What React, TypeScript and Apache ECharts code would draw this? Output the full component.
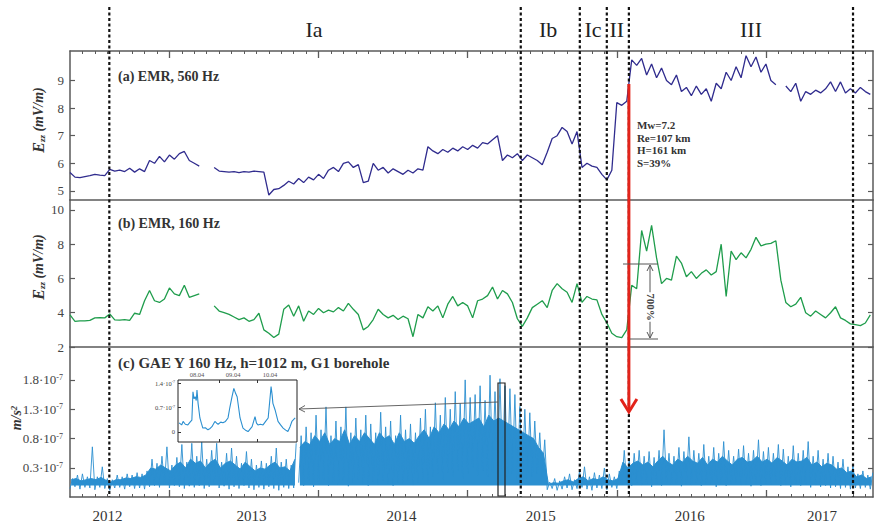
import React, { useEffect, useRef } from 'react';
import * as echarts from 'echarts';

// ---- time grid (decimal years) ----
const X_MIN = 2011 + 4 / 12;
const X_MAX = 2016.718;
const T0 = 2011 + 4 / 12;
const DT = 1 / 30;

// ---- panel (a) EMR 560 Hz, mV/m ----
const EMR560: (number | null)[] = [
  5.67, 5.5, 5.48, 5.52, 5.55, 5.6, 5.57, 5.55, 5.78, 5.72,
  5.75, 5.7, 5.82, 5.68, 5.8, 5.7, 6.1, 6.0, 6.25, 6.05,
  6.3, 6.15, 6.35, 6.43, 6.1, 6.0, 5.9, null, null, 5.85,
  5.72, 5.7, 5.68, 5.7, 5.66, 5.7, 5.68, 5.72, 5.7, 5.68,
  4.85, 5.05, 5.08, 5.2, 5.35, 5.25, 5.45, 5.3, 5.5, 5.4,
  5.6, 5.45, 5.75, 5.85, 5.7, 6.0, 6.05, 5.85, 5.95, 5.3,
  5.35, 6.0, 5.75, 5.85, 5.65, 5.8, 5.7, 5.6, 5.75, 5.65,
  5.8, 5.75, 6.6, 6.45, 6.35, 6.5, 6.4, 6.55, 6.45, 6.6,
  6.5, 6.65, 6.55, 6.75, 6.7, 6.85, 7.0, 6.1, 6.3, 6.2,
  6.35, 6.1, 6.3, 6.2, 6.1, 5.95, 6.4, 6.9, 7.0, 7.3,
  7.15, 6.7, 7.15, 5.85, 6.0, 5.9, 5.85, 5.6, 5.4, 5.75,
  8.2, 8.1, 8.25, 9.75, 9.55, 9.8, 9.2, 9.6, 9.1, 9.45,
  9.0, 8.85, 9.2, 8.6, 8.75, 8.45, 8.8, 8.5, 8.7, 8.25,
  8.9, 8.7, 9.3, 9.0, 9.5, 9.1, 9.9, 9.5, 9.85, 9.3,
  9.6, 9.0, 8.85, null, 8.8, 8.6, 8.9, 8.25, 8.6, 8.5,
  8.65, 8.55, 8.7, 8.95, 8.6, 8.95, 8.55, 8.7, 8.55, 8.75,
  8.6, 8.5,
];

// ---- panel (b) EMR 160 Hz, mV/m ----
const EMR160: (number | null)[] = [
  3.87, 3.5, 3.53, 3.53, 3.55, 3.7, 3.72, 3.7, 3.93, 3.58,
  3.57, 3.6, 3.56, 3.97, 3.9, 4.7, 5.3, 4.7, 4.6, 4.8,
  5.45, 5.1, 5.0, 5.6, 4.9, 5.0, 5.1, null, null, 4.4,
  4.1, 4.0, 3.9, 3.75, 3.6, 3.7, 3.5, 3.6, 3.97, 3.0,
  2.8, 2.55, 2.75, 4.2, 4.45, 3.8, 4.4, 3.5, 4.1, 3.9,
  4.25, 4.0, 4.15, 4.05, 4.3, 4.1, 4.55, 4.2, 3.9, 3.0,
  3.2, 3.6, 4.2, 3.9, 3.7, 3.85, 3.6, 3.8, 3.65, 2.6,
  3.9, 3.7, 4.35, 4.1, 4.4, 3.7, 4.5, 4.95, 4.4, 4.6,
  4.4, 3.7, 4.7, 4.8, 5.0, 5.5, 4.8, 5.3, 5.1, 4.6,
  3.65, 3.2, 3.7, 4.3, 4.5, 4.7, 4.3, 5.3, 5.7, 5.4,
  5.2, 4.6, 5.7, 4.6, 4.95, 4.8, 4.75, 3.9, 3.4, 2.8,
  2.6, 2.55, 3.0, 5.6, 5.4, 8.8, 7.6, 9.1, 7.2, 5.7,
  6.0, 5.9, 7.3, 6.9, 6.1, 6.4, 6.0, 6.3, 6.5, 6.2,
  6.4, 8.0, 4.95, 7.6, 7.1, 7.5, 7.2, 7.7, 8.4, 7.9,
  8.0, 8.05, 8.2, 5.9, 4.6, 4.35, 4.5, 4.9, 4.0, 3.8,
  4.1, 3.9, 3.7, 4.0, 4.35, 3.7, 3.55, 3.35, 3.3, 3.25,
  3.4, 3.87,
];

// ---- panel (c) GAE, units of 1e-7 m/s^2: spike tops, dense-body top, bottom edge ----
const GAE_HI: number[] = [
  0.12, 0.18, 0.2, 0.15, 0.66, 0.15, 0.32, 0.12, 0.1, 0.18,
  0.15, 0.2, 0.18, 0.22, 0.2, 0.25, 0.45, 0.38, 0.5, 0.66,
  0.35, 0.48, 0.7, 0.4, 0.72, 0.5, 0.74, 0.45, 0.6, 0.72,
  0.4, 0.55, 0.64, 0.5, 0.38, 0.58, 0.45, 0.35, 0.42, 0.38,
  0.5, 0.64, 0.4, 0.45, 0.35, 0.72, 0.85, 1.0, 0.9, 1.2,
  0.95, 1.34, 0.85, 1.1, 1.0, 1.34, 0.9, 1.15, 0.95, 1.2,
  1.05, 0.9, 1.25, 1.0, 1.1, 0.85, 1.2, 0.95, 1.05, 0.9,
  1.15, 1.3, 1.0, 1.41, 1.2, 1.5, 1.3, 1.6, 1.4, 1.8,
  1.5, 1.55, 1.7, 1.45, 1.88, 1.6, 1.82, 1.7, 1.65, 1.55,
  1.35, 1.3, 1.24, 1.1, 0.9, 0.78, 0.06, 0.12, 0.08, 0.15,
  0.2, 0.1, 0.25, 0.32, 0.15, 0.22, 0.18, 0.3, 0.2, 0.15,
  0.25, 0.6, 0.45, 0.55, 0.6, 0.5, 0.58, 0.48, 0.6, 0.95,
  0.55, 0.5, 0.65, 0.58, 0.83, 0.6, 0.55, 0.7, 0.5, 0.65,
  0.55, 0.75, 0.6, 0.5, 0.62, 0.68, 0.55, 0.6, 0.78, 0.58,
  0.65, 0.55, 0.7, 0.62, 0.5, 0.68, 0.55, 0.6, 0.75, 0.5,
  0.6, 0.45, 0.55, 0.5, 0.4, 0.45, 0.32, 0.35, 0.2, 0.25,
  0.18, 0.22,
];
const GAE_CORE: number[] = [
  0.1, 0.12, 0.08, 0.1, 0.12, 0.1, 0.14, 0.09, 0.06, 0.1,
  0.1, 0.13, 0.12, 0.15, 0.14, 0.18, 0.3, 0.28, 0.35, 0.3,
  0.25, 0.35, 0.4, 0.3, 0.45, 0.38, 0.42, 0.3, 0.4, 0.45,
  0.3, 0.38, 0.42, 0.35, 0.28, 0.4, 0.32, 0.25, 0.3, 0.28,
  0.35, 0.4, 0.3, 0.32, 0.25, 0.45, 0.65, 0.75, 0.7, 0.85,
  0.75, 0.9, 0.7, 0.8, 0.75, 0.95, 0.7, 0.85, 0.75, 0.9,
  0.8, 0.7, 0.9, 0.8, 0.85, 0.7, 0.9, 0.75, 0.8, 0.72,
  0.85, 0.95, 0.8, 1.0, 0.9, 1.05, 0.95, 1.1, 1.0, 1.15,
  1.05, 1.1, 1.15, 1.0, 1.2, 1.1, 1.15, 1.1, 1.05, 1.0,
  0.95, 0.9, 0.85, 0.8, 0.65, 0.55, 0.02, 0.05, 0.04, 0.08,
  0.1, 0.06, 0.12, 0.15, 0.08, 0.12, 0.1, 0.15, 0.1, 0.08,
  0.12, 0.4, 0.3, 0.38, 0.42, 0.35, 0.4, 0.32, 0.42, 0.5,
  0.4, 0.35, 0.45, 0.4, 0.5, 0.42, 0.38, 0.48, 0.35, 0.45,
  0.4, 0.5, 0.42, 0.35, 0.45, 0.48, 0.4, 0.42, 0.5, 0.4,
  0.45, 0.38, 0.48, 0.42, 0.35, 0.45, 0.4, 0.42, 0.48, 0.35,
  0.4, 0.32, 0.38, 0.35, 0.28, 0.3, 0.22, 0.25, 0.15, 0.18,
  0.12, 0.15,
];
const GAE_LO: number[] = [
  -0.05, -0.02, -0.06, -0.03, -0.04, -0.07, -0.03, -0.05, -0.08, -0.04,
  -0.03, -0.06, -0.02, -0.05, -0.04, -0.06, -0.02, 0.0, -0.03, 0.02,
  -0.04, 0.0, -0.02, -0.05, -0.01, -0.03, 0.0, -0.05, -0.02, 0.02,
  -0.04, -0.01, -0.06, -0.02, -0.05, 0.0, -0.04, -0.07, -0.03, -0.06,
  -0.02, -0.05, -0.08, -0.03, -0.05, -0.04, 0.05, 0.0, 0.08, -0.02,
  0.04, 0.1, 0.0, 0.06, 0.02, 0.08, -0.01, 0.05, 0.1, 0.03,
  0.0, 0.07, 0.02, 0.09, 0.04, 0.0, 0.06, 0.03, 0.08, 0.01,
  0.05, 0.1, 0.05, 0.15, 0.2, 0.1, 0.22, 0.15, 0.25, 0.12,
  0.2, 0.3, 0.18, 0.25, 0.15, 0.22, 0.2, 0.28, 0.15, 0.2,
  0.1, 0.18, 0.12, 0.15, 0.2, 0.15, -0.07, -0.05, -0.08, -0.06,
  -0.04, -0.07, -0.05, -0.03, -0.06, -0.08, -0.04, -0.05, -0.07, -0.03,
  -0.05, 0.02, 0.04, 0.0, 0.05, 0.01, 0.03, -0.02, 0.04, 0.0,
  0.05, 0.02, 0.03, -0.01, 0.04, 0.01, 0.05, 0.0, 0.03, 0.02,
  -0.02, 0.04, 0.0, 0.03, 0.05, 0.01, 0.02, -0.01, 0.04, 0.0,
  0.03, 0.02, 0.05, 0.0, 0.01, -0.02, 0.03, 0.0, 0.02, -0.03,
  0.01, -0.02, 0.0, -0.04, -0.02, -0.05, -0.03, -0.06, -0.04, -0.05,
  -0.03, -0.06,
];
const GAE_GAP_AFTER = 45;

// ---- inset (days, units of 1e-7 m/s^2) ----
const INSET_T = [
  0.03, 0.1, 0.14, 0.2, 0.27, 0.33, 0.38, 0.41, 0.44, 0.47,
  0.5, 0.52, 0.55, 0.6, 0.64, 0.68, 0.75, 0.82, 0.88, 0.93,
  1.01, 1.06, 1.1, 1.17, 1.23, 1.3, 1.37, 1.42, 1.48, 1.53,
  1.58, 1.62, 1.7, 1.78, 1.85, 1.92, 2.03, 2.11, 2.15, 2.19,
  2.26, 2.33, 2.4, 2.47, 2.55, 2.58, 2.6, 2.66, 2.74, 2.81,
  2.88, 2.95, 3.01, 3.07, 3.12, 3.21,
];
const INSET_V = [
  0.26, 0.2, 0.3, 0.22, 0.2, 0.28, 0.34, 1.15, 0.95, 1.01,
  0.9, 1.2, 0.82, 0.4, 0.25, 0.11, 0.12, 0.06, 0.1, 0.15,
  0.3, 0.25, 0.22, 0.28, 0.26, 0.3, 0.4, 0.7, 1.01, 1.25,
  1.1, 1.01, 0.4, 0.11, 0.05, 0.01, 0.15, 0.44, 0.25, 0.2,
  0.22, 0.2, 0.3, 0.4, 1.3, 1.05, 0.82, 0.63, 0.3, 0.2,
  0.11, 0.05, 0.01, 0.15, 0.3, 0.4,
];
const INSET_DAYS = ['08.04', '09.04', '10.04'];
const INSET_DAY_AT = [0.52, 1.51, 2.52];
const INSET_TICKS = [1.12, 2.16];
const INSET_Y = [0, 0.7, 1.4];

// ---- axes ----
const YEAR_LABELS = ['2012', '2013', '2014', '2015', '2016', '2017'];
const YEAR_LABEL_AT = [2011.584, 2012.55, 2013.557, 2014.49, 2015.49, 2016.376];
const YEAR_TICKS = [2012, 2013, 2014, 2015, 2016];
const A_TICKS = [5, 6, 7, 8, 9];
const B_TICKS = [2, 4, 6, 8, 10];
const C_TICKS = [0.3, 0.8, 1.3, 1.8];

// ---- annotations ----
const BOUNDARIES = [2011.597, 2014.356, 2014.752, 2014.933, 2015.081, 2016.584];
const REGIONS = ['Ia', 'Ib', 'Ic', 'II', 'III'];
const REGION_AT = [2012.97, 2014.54, 2014.84, 2015.0, 2015.9];
const QUAKE = 2015.081;
const QUAKE_TEXT = ['Mw=7.2', 'Re=107 km', 'H=161 km', 'S=39%'];
const PANEL_TITLES = ['(a) EMR, 560 Hz', '(b) EMR, 160 Hz', '(c) GAE Y 160 Hz, h=1012 m, G1 borehole'];

const FONT = "'Liberation Serif', 'Times New Roman', serif";
const AX = '#5a5a5a';
const C_A = '#302c8e';
const C_B = '#1f9d4c';
const C_C = '#2b8fd0';

function nearestIdx(arr: number[], v: number) {
  let b = 0;
  for (let k = 1; k < arr.length; k++) if (Math.abs(arr[k] - v) < Math.abs(arr[b] - v)) b = k;
  return b;
}

export default function App() {
  const ref = useRef<HTMLDivElement>(null);
  useEffect(() => {
    const el = ref.current!;
    const chart = echarts.init(el, undefined, { renderer: 'svg' });

    const months: number[] = [];
    for (let k = 1; X_MIN + k / 12 < X_MAX; k++) months.push(X_MIN + k / 12);

    const lineSty = { color: AX, width: 1.5 };
    const baseX = (grid: number, pos: string, extra: any = {}) => ({
      type: 'value', gridIndex: grid, position: pos, min: X_MIN, max: X_MAX,
      axisLine: { show: true, onZero: false, lineStyle: lineSty },
      axisTick: { show: false }, axisLabel: { show: false }, splitLine: { show: false },
      ...extra,
    });
    const baseY = (grid: number, pos: string, min: number, max: number, ticks: number[], label: any) => ({
      type: 'value', gridIndex: grid, position: pos, min, max,
      axisLine: { show: true, onZero: false, lineStyle: lineSty },
      axisTick: { show: true, inside: true, length: 5, customValues: ticks, lineStyle: { color: AX, width: 1.2 } },
      axisLabel: label ? { show: true, customValues: ticks, color: '#444', fontFamily: FONT, fontSize: 13, margin: 6, ...label } : { show: false },
      splitLine: { show: false },
    });

    const supRich = (size: number) => ({
      m: { fontSize: size, fontFamily: FONT, color: '#444' },
      e: { fontSize: Math.round(size * 0.62), fontFamily: FONT, color: '#444', verticalAlign: 'top' },
    });

    const dA = EMR560.map((v, i) => [T0 + i * DT, v == null ? '-' : v]);
    const dB = EMR160.map((v, i) => [T0 + i * DT, v == null ? '-' : v]);
    const n = Math.min(GAE_HI.length, GAE_LO.length, GAE_CORE.length);
    const dSpike: any[] = [];
    const dCore: any[] = [];
    for (let i = 0; i < n; i++) {
      if (i === GAE_GAP_AFTER + 1) {
        dSpike.push([T0 + (i - 0.3) * DT, '-']);
        dCore.push([T0 + (i - 0.3) * DT, '-']);
      }
      dSpike.push([T0 + i * DT, GAE_LO[i]]);
      dSpike.push([T0 + (i + 0.5) * DT, GAE_HI[i]]);
      dCore.push([T0 + (i + 0.25) * DT, GAE_CORE[i]]);
    }
    const dI = INSET_T.map((t, i) => [t, INSET_V[i]]);

    const option: any = {
      animation: false,
      backgroundColor: '#fff',
      grid: [
        { left: 70, right: 1, top: 51, height: 149 },
        { left: 70, right: 1, top: 200, height: 147 },
        { left: 70, right: 1, top: 347, height: 150 },
        { left: 178, top: 380, width: 119, height: 62, show: true, backgroundColor: '#fff', borderColor: '#222', borderWidth: 1, z: 5 },
      ],
      xAxis: [
        baseX(0, 'bottom'),
        baseX(0, 'top', { axisTick: { show: true, inside: true, length: 7, customValues: YEAR_TICKS, lineStyle: { color: AX, width: 1.3 } } }),
        baseX(0, 'top', { axisLine: { show: false, onZero: false }, axisTick: { show: true, inside: true, length: 3, customValues: months, lineStyle: { color: AX, width: 1 } } }),
        baseX(1, 'bottom'),
        baseX(2, 'bottom', {
          axisTick: { show: true, inside: true, length: 7, customValues: YEAR_TICKS, lineStyle: { color: AX, width: 1.3 } },
          axisLabel: {
            show: true, customValues: YEAR_LABEL_AT, margin: 11, fontFamily: FONT, fontSize: 15, color: '#333',
            formatter: (v: number) => YEAR_LABELS[nearestIdx(YEAR_LABEL_AT, v)],
          },
        }),
        baseX(2, 'bottom', { axisLine: { show: false, onZero: false }, axisTick: { show: true, inside: true, length: 3, customValues: months, lineStyle: { color: AX, width: 1 } } }),
        {
          type: 'value', gridIndex: 3, position: 'top', min: 0, max: 3.26, z: 6,
          axisLine: { show: false, onZero: false },
          axisTick: { show: true, inside: true, length: 3, customValues: INSET_TICKS, lineStyle: { color: '#333' } },
          axisLabel: {
            show: true, customValues: INSET_DAY_AT, margin: 2, fontFamily: FONT, fontSize: 6.5, color: '#555',
            formatter: (v: number) => INSET_DAYS[nearestIdx(INSET_DAY_AT, v)],
          },
          splitLine: { show: false },
        },
        {
          type: 'value', gridIndex: 3, position: 'bottom', min: 0, max: 3.26, z: 6,
          axisLine: { show: false, onZero: false },
          axisTick: { show: true, inside: true, length: 3, customValues: INSET_TICKS, lineStyle: { color: '#333' } },
          axisLabel: { show: false }, splitLine: { show: false },
        },
      ],
      yAxis: [
        baseY(0, 'left', 4.67, 10.07, A_TICKS, {}),
        baseY(0, 'right', 4.67, 10.07, A_TICKS, null),
        baseY(1, 'left', 2, 10.58, B_TICKS, {}),
        baseY(1, 'right', 2, 10.58, B_TICKS, null),
        baseY(2, 'left', -0.194, 2.36, C_TICKS, {
          margin: 7,
          formatter: (v: number) => `{m|${v.toFixed(1)}·10}{e|-7}`,
          rich: supRich(13),
        }),
        baseY(2, 'right', -0.194, 2.36, C_TICKS, null),
        {
          type: 'value', gridIndex: 3, position: 'left', min: -0.29, max: 1.49, z: 6,
          axisLine: { show: false, onZero: false },
          axisTick: { show: true, inside: true, length: 3, customValues: INSET_Y, lineStyle: { color: '#333' } },
          axisLabel: {
            show: true, customValues: INSET_Y, margin: 3,
            formatter: (v: number) => (v === 0 ? '{m|0}' : `{m|${v.toFixed(1)}·10}{e|-7}`),
            rich: supRich(6.5),
          },
          splitLine: { show: false },
        },
      ],
      series: [
        { type: 'line', xAxisIndex: 0, yAxisIndex: 0, data: dA, showSymbol: false, lineStyle: { color: C_A, width: 1.3 }, silent: true },
        { type: 'line', xAxisIndex: 3, yAxisIndex: 2, data: dB, showSymbol: false, lineStyle: { color: C_B, width: 1.3 }, silent: true },
        {
          type: 'line', xAxisIndex: 4, yAxisIndex: 4, data: dCore, showSymbol: false,
          lineStyle: { color: C_C, width: 1 }, areaStyle: { color: C_C, opacity: 1, origin: 'auto' }, silent: true,
        },
        {
          type: 'line', xAxisIndex: 4, yAxisIndex: 4, data: dSpike, showSymbol: false,
          lineStyle: { color: C_C, width: 0.9 }, silent: true,
        },
        { type: 'line', xAxisIndex: 6, yAxisIndex: 6, data: dI, showSymbol: false, z: 7, lineStyle: { color: C_C, width: 1.1 }, silent: true },
      ],
    };
    chart.setOption(option);

    const xp = (t: number) => chart.convertToPixel({ xAxisIndex: 0 }, t) as number;
    const els: any[] = [];
    BOUNDARIES.forEach((b) => {
      const x = xp(b);
      els.push({ type: 'line', z: 50, silent: true, shape: { x1: x, y1: 7, x2: x, y2: 497 }, style: { stroke: '#111', lineWidth: 2.2, lineDash: [3, 2.5] } });
    });
    REGIONS.forEach((r, k) => {
      els.push({ type: 'text', z: 50, x: xp(REGION_AT[k]), y: 29, style: { text: r, font: `22px ${FONT}`, fill: '#222', align: 'center', verticalAlign: 'middle' } });
    });
    const titleY = [76, 223, 363];
    PANEL_TITLES.forEach((t, k) => {
      els.push({ type: 'text', z: 50, x: 118, y: titleY[k], style: { text: t, font: `bold ${k === 2 ? 15 : 14}px ${FONT}`, fill: '#333', align: 'left', verticalAlign: 'middle' } });
    });
    const eName = (y: number) => ({
      type: 'text', z: 50, x: 38, y, rotation: Math.PI / 2,
      style: {
        text: '{e|E}{s|zz}{n| (mV/m)}', align: 'center', verticalAlign: 'middle', fill: '#333',
        rich: {
          e: { fontFamily: FONT, fontStyle: 'italic', fontWeight: 'bold', fontSize: 16, fill: '#333' },
          s: { fontFamily: FONT, fontStyle: 'italic', fontWeight: 'bold', fontSize: 9, fill: '#333', verticalAlign: 'bottom' },
          n: { fontFamily: FONT, fontStyle: 'italic', fontWeight: 'bold', fontSize: 14, fill: '#333' },
        },
      },
    });
    els.push(eName(120));
    els.push(eName(267));
    els.push({
      type: 'text', z: 50, x: 16, y: 418, rotation: Math.PI / 2,
      style: {
        text: '{n|m/s}{e|2}', align: 'center', verticalAlign: 'middle', fill: '#333',
        rich: {
          n: { fontFamily: FONT, fontStyle: 'italic', fontWeight: 'bold', fontSize: 14, fill: '#333' },
          e: { fontFamily: FONT, fontStyle: 'italic', fontWeight: 'bold', fontSize: 9, fill: '#333', verticalAlign: 'top' },
        },
      },
    });
    const q = xp(QUAKE);
    els.push({ type: 'line', z: 60, silent: true, shape: { x1: q, y1: 84, x2: q, y2: 411 }, style: { stroke: '#e2231a', lineWidth: 3 } });
    els.push({ type: 'polyline', z: 60, silent: true, shape: { points: [[q - 8, 399], [q, 412], [q + 8, 399]] }, style: { stroke: '#e2231a', lineWidth: 3, fill: 'none' } });
    QUAKE_TEXT.forEach((t, k) => {
      els.push({ type: 'text', z: 60, x: q + 8, y: 125 + k * 12.7, style: { text: t, font: `bold 11px ${FONT}`, fill: '#333', align: 'left', verticalAlign: 'middle' } });
    });
    // 700% indicator
    els.push({ type: 'line', z: 60, shape: { x1: 623, y1: 264, x2: 658, y2: 264 }, style: { stroke: '#555', lineWidth: 1 } });
    els.push({ type: 'line', z: 60, shape: { x1: 630, y1: 339, x2: 658, y2: 339 }, style: { stroke: '#555', lineWidth: 1 } });
    els.push({ type: 'line', z: 60, shape: { x1: 650, y1: 265, x2: 650, y2: 338 }, style: { stroke: '#555', lineWidth: 1 } });
    els.push({ type: 'polyline', z: 60, shape: { points: [[647, 271], [650, 265], [653, 271]] }, style: { stroke: '#555', lineWidth: 1, fill: 'none' } });
    els.push({ type: 'polyline', z: 60, shape: { points: [[647, 332], [650, 338], [653, 332]] }, style: { stroke: '#555', lineWidth: 1, fill: 'none' } });
    els.push({ type: 'text', z: 61, x: 651, y: 307, rotation: -Math.PI / 2, style: { text: '700%', font: `bold 11px ${FONT}`, fill: '#444', align: 'center', verticalAlign: 'middle', backgroundColor: '#fff', padding: [0, 1] } });
    // inset pointer
    els.push({ type: 'rect', z: 55, shape: { x: 498, y: 383, width: 7, height: 113 }, style: { stroke: '#222', lineWidth: 1.2, fill: 'none' } });
    els.push({ type: 'line', z: 55, shape: { x1: 498, y1: 402, x2: 299, y2: 409 }, style: { stroke: '#555', lineWidth: 0.9 } });
    els.push({ type: 'polyline', z: 55, shape: { points: [[305, 405.5], [299, 409], [305, 412]] }, style: { stroke: '#555', lineWidth: 0.9, fill: 'none' } });

    chart.setOption({ graphic: { elements: els } });
    return () => chart.dispose();
  }, []);
  return <div ref={ref} style={{ position: 'fixed', left: 0, top: 0, width: 874, height: 526, background: '#fff' }} />;
}
